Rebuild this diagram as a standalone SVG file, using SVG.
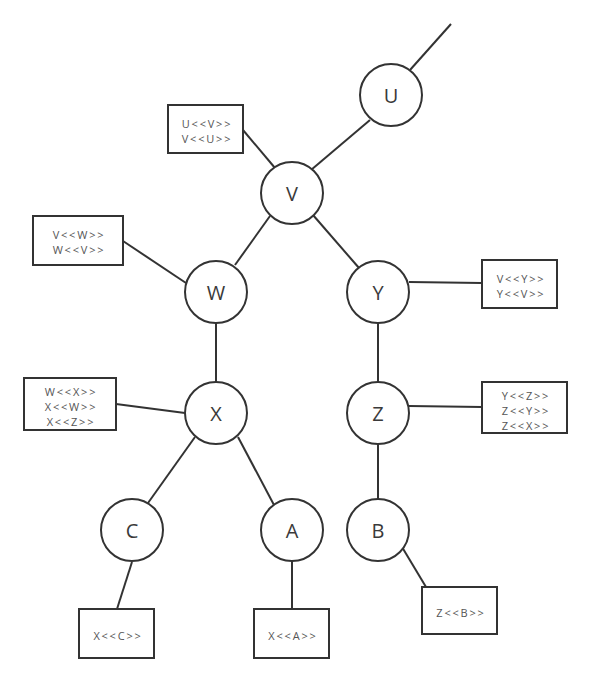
<svg xmlns="http://www.w3.org/2000/svg" width="591" height="682" viewBox="0 0 591 682">
<style>
.n circle{fill:#fff;stroke:#333;stroke-width:2}
.n text{font-family:"Open Sans","Noto Sans",sans-serif;font-size:20px;fill:#3a3a3a;text-anchor:middle;dominant-baseline:central}
.b rect{fill:#fff;stroke:#333;stroke-width:2}
.b text{font-family:"Open Sans","Noto Sans",sans-serif;font-size:11px;fill:#555;text-anchor:middle;dominant-baseline:central;letter-spacing:1.8px}
#edges line{stroke:#333;stroke-width:2}
</style>
<rect width="591" height="682" fill="#fff"/>
<g id="edges">
<line x1="451" y1="24" x2="410" y2="70"/>
<line x1="370" y1="120" x2="311" y2="170"/>
<line x1="243" y1="130" x2="275" y2="168"/>
<line x1="270" y1="216" x2="235" y2="265"/>
<line x1="313" y1="215" x2="359" y2="268"/>
<line x1="123" y1="241" x2="186" y2="283"/>
<line x1="216" y1="323" x2="216" y2="382"/>
<line x1="116" y1="404" x2="185" y2="413"/>
<line x1="409" y1="282" x2="482" y2="283"/>
<line x1="378" y1="323" x2="378" y2="382"/>
<line x1="409" y1="406" x2="482" y2="407"/>
<line x1="378" y1="444" x2="378" y2="499"/>
<line x1="195" y1="437" x2="148" y2="503"/>
<line x1="238" y1="437" x2="274" y2="505"/>
<line x1="132" y1="562" x2="117" y2="609"/>
<line x1="292" y1="561" x2="292" y2="609"/>
<line x1="402" y1="547" x2="426" y2="587"/>
</g>
<g id="node-U" class="n"><circle cx="391" cy="95" r="31"/><text x="391" y="95">U</text></g>
<g id="node-V" class="n"><circle cx="292" cy="193" r="31"/><text x="292" y="193">V</text></g>
<g id="node-W" class="n"><circle cx="216" cy="292" r="31"/><text x="216" y="292">W</text></g>
<g id="node-Y" class="n"><circle cx="378" cy="292" r="31"/><text x="378" y="292">Y</text></g>
<g id="node-X" class="n"><circle cx="216" cy="413" r="31"/><text x="216" y="413">X</text></g>
<g id="node-Z" class="n"><circle cx="378" cy="413" r="31"/><text x="378" y="413">Z</text></g>
<g id="node-C" class="n"><circle cx="132" cy="530" r="31"/><text x="132" y="530">C</text></g>
<g id="node-A" class="n"><circle cx="292" cy="530" r="31"/><text x="292" y="530">A</text></g>
<g id="node-B" class="n"><circle cx="378" cy="530" r="31"/><text x="378" y="530">B</text></g>
<g id="box-UV" class="b"><rect x="168" y="105" width="75" height="48"/><text x="207" y="123">U&lt;&lt;V&gt;&gt;</text><text x="207" y="138">V&lt;&lt;U&gt;&gt;</text></g>
<g id="box-VW" class="b"><rect x="33" y="216" width="90" height="49"/><text x="79" y="234">V&lt;&lt;W&gt;&gt;</text><text x="79" y="249">W&lt;&lt;V&gt;&gt;</text></g>
<g id="box-WX" class="b"><rect x="24" y="378" width="92" height="52"/><text x="71" y="391">W&lt;&lt;X&gt;&gt;</text><text x="71" y="406">X&lt;&lt;W&gt;&gt;</text><text x="71" y="421">X&lt;&lt;Z&gt;&gt;</text></g>
<g id="box-VY" class="b"><rect x="482" y="260" width="75" height="48"/><text x="521" y="278">V&lt;&lt;Y&gt;&gt;</text><text x="521" y="293">Y&lt;&lt;V&gt;&gt;</text></g>
<g id="box-YZ" class="b"><rect x="482" y="382" width="85" height="51"/><text x="526" y="395">Y&lt;&lt;Z&gt;&gt;</text><text x="526" y="410">Z&lt;&lt;Y&gt;&gt;</text><text x="526" y="425">Z&lt;&lt;X&gt;&gt;</text></g>
<g id="box-XC" class="b"><rect x="79" y="609" width="75" height="49"/><text x="118" y="635">X&lt;&lt;C&gt;&gt;</text></g>
<g id="box-XA" class="b"><rect x="254" y="609" width="75" height="49"/><text x="293" y="635">X&lt;&lt;A&gt;&gt;</text></g>
<g id="box-ZB" class="b"><rect x="422" y="587" width="75" height="47"/><text x="461" y="612">Z&lt;&lt;B&gt;&gt;</text></g>
</svg>
